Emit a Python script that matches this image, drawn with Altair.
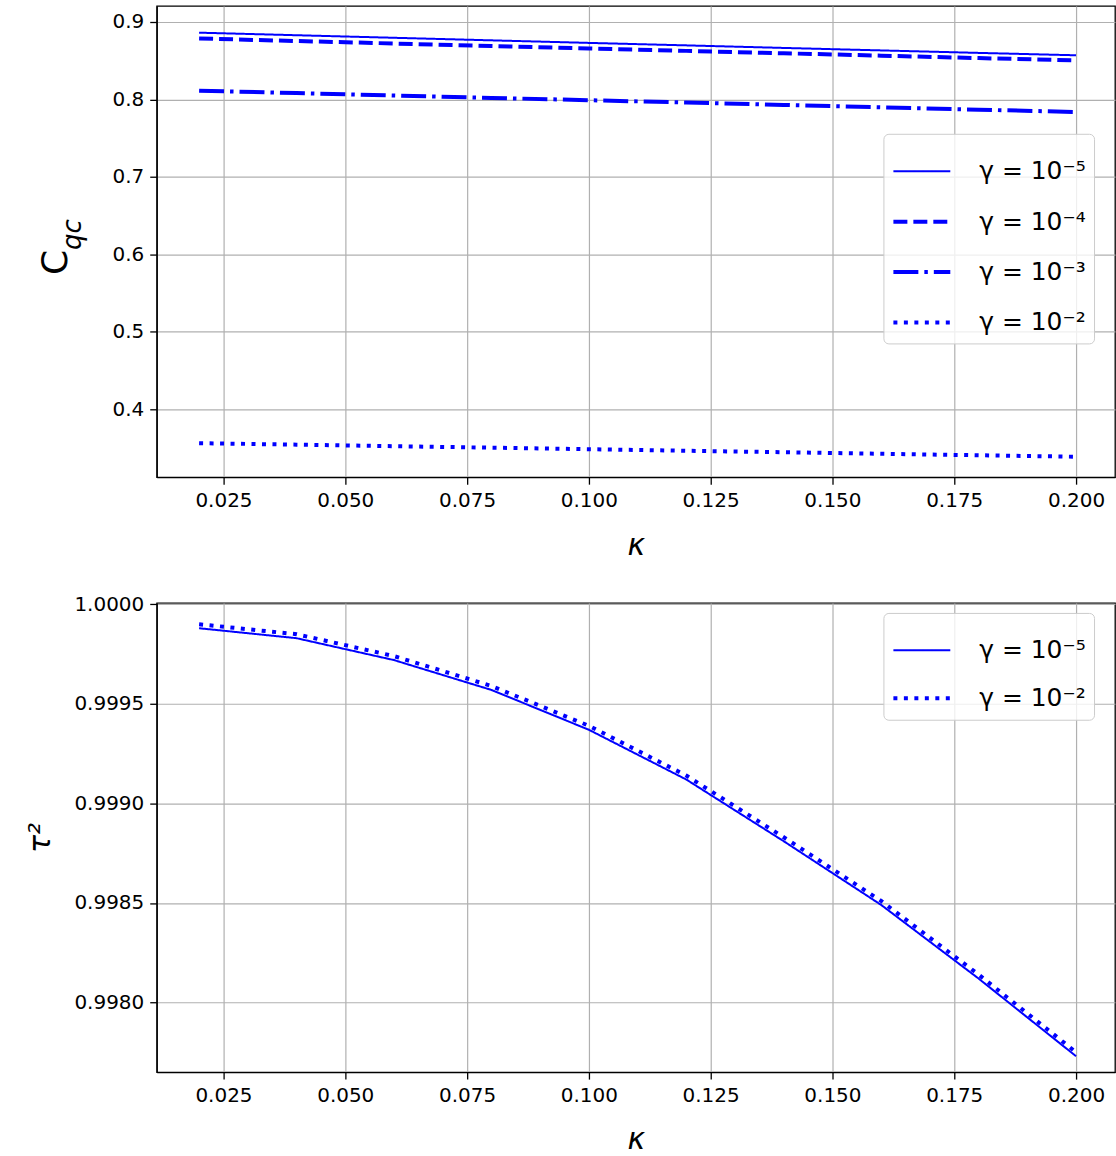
import altair as alt
import pandas as pd

# ---------------- data ----------------
kappa = [0.02, 0.04, 0.06, 0.08, 0.10, 0.12, 0.14, 0.16, 0.18, 0.20]

labels_top = ["γ = 10⁻⁵", "γ = 10⁻⁴", "γ = 10⁻³", "γ = 10⁻²"]
cqc_g5 = [0.8862, 0.8829, 0.8796, 0.8763, 0.8730, 0.8698, 0.8665, 0.8633, 0.8601, 0.8570]
cqc_g4 = [0.8787, 0.8754, 0.8722, 0.8690, 0.8658, 0.8627, 0.8596, 0.8565, 0.8534, 0.8504]
cqc_g3 = [0.8113, 0.8082, 0.8051, 0.8020, 0.7990, 0.7960, 0.7929, 0.7898, 0.7868, 0.7838]
cqc_g2 = [0.3562, 0.3543, 0.3523, 0.3504, 0.3484, 0.3464, 0.3445, 0.3425, 0.3406, 0.3387]

labels_bot = ["γ = 10⁻⁵", "γ = 10⁻²"]
tau2_g5 = [0.99988, 0.99983, 0.99972, 0.99957, 0.99937, 0.99912, 0.99881, 0.99849, 0.99812, 0.99773]
tau2_g2 = [0.99990, 0.99985, 0.99974, 0.99959, 0.99939, 0.99914, 0.99883, 0.99851, 0.99814, 0.99775]

x_ticks = [0.025, 0.05, 0.075, 0.1, 0.125, 0.15, 0.175, 0.2]
top_y_ticks = [0.4, 0.5, 0.6, 0.7, 0.8, 0.9]
bot_y_ticks = [0.998, 0.9985, 0.999, 0.9995, 1.0]

top_df = pd.DataFrame({
    "kappa": kappa * 4,
    "value": cqc_g5 + cqc_g4 + cqc_g3 + cqc_g2,
    "series": [s for s in labels_top for _ in kappa],
})
bot_df = pd.DataFrame({
    "kappa": kappa * 2,
    "value": tau2_g5 + tau2_g2,
    "series": [s for s in labels_bot for _ in kappa],
})

BLUE = "#0000ff"
FONT = "DejaVu Sans"
W = 960

dash_top = [[1, 0], [14, 6], [25, 6, 3.5, 6], [4, 6.5]]
width_top = [2, 4, 4, 4]
dash_bot = [[1, 0], [4, 6.5]]
width_bot = [2, 4]


def make_legend(x, y, row_pad):
    return alt.Legend(
        title=None, orient="none", legendX=x, legendY=y,
        symbolType="stroke", symbolSize=3249, symbolStrokeColor=BLUE,
        labelFont=FONT, labelFontSize=25, labelColor="black", labelOffset=27,
        rowPadding=row_pad, padding=8,
        fillColor="rgba(255,255,255,0.8)", strokeColor="#cccccc", cornerRadius=5,
    )


def x_enc():
    return alt.X(
        "kappa:Q",
        scale=alt.Scale(domain=[0.0113, 0.208], nice=False, zero=False),
        axis=alt.Axis(values=x_ticks, format=".3f", title="κ",
                      titleFontSize=30, titleFontStyle="italic",
                      titleFontWeight="normal", titlePadding=20),
    )


top_lines = alt.Chart(top_df).mark_line(color=BLUE, strokeCap="butt").encode(
    x=x_enc(),
    y=alt.Y("value:Q",
            scale=alt.Scale(domain=[0.3123, 0.9206], nice=False, zero=False),
            axis=alt.Axis(values=top_y_ticks, format=".1f", title=None)),
    strokeDash=alt.StrokeDash("series:N",
                              scale=alt.Scale(domain=labels_top, range=dash_top),
                              legend=make_legend(728, 128, 6.5)),
    strokeWidth=alt.StrokeWidth("series:N",
                                scale=alt.Scale(type="ordinal", domain=labels_top, range=width_top),
                                legend=make_legend(728, 128, 6.5)),
    detail="series:N",
)

c_main = alt.Chart(pd.DataFrame({"t": ["C"]})).mark_text(
    font=FONT, fontSize=36, angle=270, align="center", baseline="middle", color="black"
).encode(x=alt.value(-101), y=alt.value(257), text="t:N")

c_sub = alt.Chart(pd.DataFrame({"t": ["qc"]})).mark_text(
    font=FONT, fontSize=26, fontStyle="italic", angle=270, align="center",
    baseline="middle", color="black"
).encode(x=alt.value(-84), y=alt.value(229), text="t:N")

top = alt.layer(top_lines, c_main, c_sub).properties(width=W, height=472)

bot_lines = alt.Chart(bot_df).mark_line(color=BLUE, strokeCap="butt").encode(
    x=x_enc(),
    y=alt.Y("value:Q",
            scale=alt.Scale(domain=[0.99765, 1.000007], nice=False, zero=False),
            axis=alt.Axis(values=bot_y_ticks, format=".4f", title="τ²",
                          titleFontSize=30, titleFontStyle="italic",
                          titleFontWeight="normal", titlePadding=18)),
    strokeDash=alt.StrokeDash("series:N",
                              scale=alt.Scale(domain=labels_bot, range=dash_bot),
                              legend=make_legend(728, 10, 4)),
    strokeWidth=alt.StrokeWidth("series:N",
                                scale=alt.Scale(type="ordinal", domain=labels_bot, range=width_bot),
                                legend=make_legend(728, 10, 4)),
    detail="series:N",
)

bottom = bot_lines.properties(width=W, height=470)

chart = alt.vconcat(top, bottom, spacing=32).resolve_scale(
    x="independent", y="independent",
    strokeDash="independent", strokeWidth="independent",
).resolve_legend(strokeDash="independent", strokeWidth="independent").properties(
    padding={"left": 25, "top": 4, "right": 0, "bottom": 0},
    background="white",
).configure_view(
    stroke="black", strokeWidth=1.3,
).configure_axis(
    labelFont=FONT, titleFont=FONT, labelFontSize=20, labelColor="black",
    titleColor="black", domainColor="black", domainWidth=1.3,
    tickColor="black", tickWidth=1.3, tickSize=7, labelPadding=6,
    gridColor="#b0b0b0", gridWidth=1.2,
)

chart.save("out.html", embed_options={"renderer": "svg", "actions": False})
